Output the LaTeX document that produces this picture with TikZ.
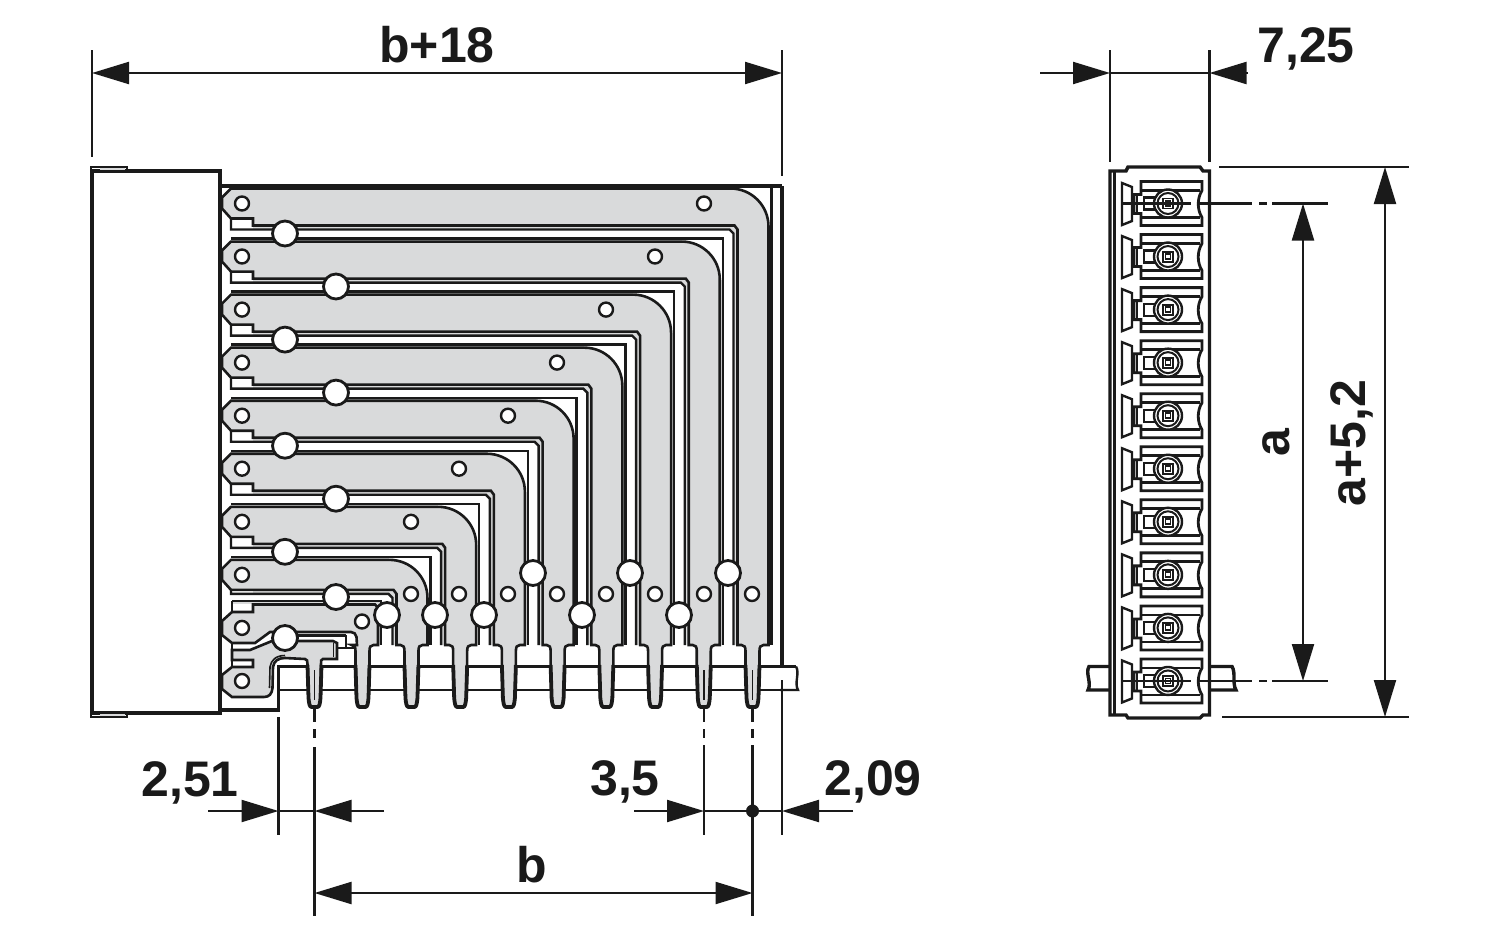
\documentclass[tikz,border=0pt]{standalone}
\usepackage{fontspec}
\setmainfont{Liberation Sans}
\usetikzlibrary{arrows.meta}
\definecolor{ink}{HTML}{1A1A1A}
\definecolor{metal}{HTML}{D9DADB}
\tikzset{
  trace/.style={fill=metal,draw=ink,line width=2.6pt,line join=miter},
  wire/.style={draw=ink,line width=2.4pt,line join=miter},
  heavy/.style={draw=ink,line width=3.4pt,line join=miter},
  dim/.style={draw=ink,line width=2.2pt},
  tipR/.style={-{Triangle[length=37pt,width=22pt,color=ink]}},
  tipB/.style={{Triangle[length=37pt,width=22pt,color=ink]}-{Triangle[length=37pt,width=22pt,color=ink]}},
  label/.style={font=\fontsize{50}{52}\selectfont\bfseries,text=ink,inner sep=0pt,anchor=base},
  bighole/.style={fill=white,draw=ink,line width=2.8pt},
  smallhole/.style={fill=white,draw=ink,line width=2.4pt},
}
\newcommand{\pinshape}[1]{%
  (#1+11,645) .. controls (#1+8,645) and (#1+7,647) .. (#1+7,651) -- (#1+7,665) -- (#1+6,698)
  .. controls (#1+5.5,703) and (#1+5,707) .. (#1+3,707) -- (#1-3,707)
  .. controls (#1-5,707) and (#1-5.5,703) .. (#1-6,698) -- (#1-7,665) -- (#1-7,651)
  .. controls (#1-7,647) and (#1-8,645) .. (#1-11,645)}
\newcommand{\pinthick}[1]{%
  \draw[ink,line width=3.8pt,line join=round] (#1+7,665) -- (#1+6,698)
  .. controls (#1+5.5,703) and (#1+5,707) .. (#1+3,707) -- (#1-3,707)
  .. controls (#1-5,707) and (#1-5.5,703) .. (#1-6,698) -- (#1-7,665);}
\newcommand{\cellview}[1]{%
  \pgfmathsetmacro{\ra}{#1-22}\pgfmathsetmacro{\rb}{#1+22}
  \draw[wire] (1122,#1-20.5) -- (1132,#1-16.5) -- (1132,#1+17.5) -- (1122,#1+21.5) -- cycle;
  \draw[wire,line width=2.8pt] (1141,\ra) -- (1202,\ra) -- (1202,#1-13) .. controls (1197,#1-5) and (1197,#1+6) .. (1202,#1+14)
    -- (1202,\rb) -- (1141,\rb) -- (1141,#1+10) -- (1134,#1+10) -- (1134,#1-9) -- (1141,#1-9) -- cycle;
  \draw[wire,line width=2.8pt] (1141,#1-13) -- (1200,#1-13) (1141,#1+14) -- (1200,#1+14);
  \draw[wire,line width=2pt] (1137,#1-9) -- (1137,#1+10);
  \draw[wire,line width=2.2pt] (1144,#1-6) rectangle (1156,#1+6);
  \draw[fill=white,draw=ink,line width=2.4pt] (1168,#1) circle (14pt);
  \draw[ink,line width=2pt] (1168,#1) circle (10.5pt);
  \draw[ink,line width=1.9pt] (1163,#1-5) rectangle (1173,#1+5);
  \draw[ink,line width=1.9pt] (1165.5,#1-2.5) rectangle (1170.5,#1+2.5);
}
\begin{document}
\begin{tikzpicture}[x=1pt,y=-1pt]
\useasboundingbox (0,0) rectangle (1500,937);
% housing strip
\draw[heavy] (220,710) -- (278.5,710) -- (278.5,666.5) -- (782,666.5) -- (796,666.5);
\draw[wire] (278.5,690) -- (796,690);
\draw[wire] (796,666.5) .. controls (800,673) and (794,683) .. (798,690) -- (780,690);
\draw[heavy] (782,186) -- (782,667);
% rows 0..7
\foreach \i in {0,...,7}{
  \pgfmathsetmacro{\r}{203.5+53.05*\i}
  \pgfmathsetmacro{\p}{752.5-48.72*\i}
  \pgfmathsetmacro{\T}{\r-15}
  \pgfmathsetmacro{\To}{\T-3}
  \pgfmathsetmacro{\Tm}{\T-1.5}
  \pgfmathsetmacro{\R}{\p+16}
  \pgfmathsetmacro{\Ro}{\R+3}
  \pgfmathsetmacro{\Rm}{\R+1.5}
  \pgfmathsetmacro{\L}{\p-15}
  \pgfmathsetmacro{\Li}{\L-4}
  \pgfmathsetmacro{\Lc}{\L-8}
  \pgfmathsetmacro{\Lk}{\L-3}
  \pgfmathsetmacro{\B}{\i==7 ? \r+15 : \r+22}
  \pgfmathsetmacro{\Bi}{\B+4}
  \pgfmathsetmacro{\Bk}{\B+8}
  \pgfmathsetmacro{\Bu}{\B-7}
  \pgfmathsetmacro{\Ta}{\R-38}
  \pgfmathsetmacro{\Tb}{\R-17}
  \pgfmathsetmacro{\Tc}{\T+17}
  \pgfmathsetmacro{\Td}{\T+38}
  \pgfmathsetmacro{\Ru}{\r-6}
  \pgfmathsetmacro{\Rd}{\r+5}
  % outer line of the channel above this trace
  \draw[metal,line width=1.6pt] (231,\Tm) -- (\Ta,\Tm) (\Rm,\Td) -- (\Rm,645);
  \draw[wire] (231,\To) -- (\Ro,\To) -- (\Ro,645);
  % thin strip beside the inner edge
  \fill[metal] (253,\B) -- (\Lk,\B) -- (\L,\Bi) -- (\L,645) -- (\Li,645) -- (\Li,\Bk) -- (\Lc,\Bi) -- (253,\Bi) -- cycle;
  % trace
  \ifnum\i=7
    \draw[trace] (222,\Ru) -- (231,\T) -- (\Ta,\T) .. controls (\Tb,\T) and (\R,\Tc) .. (\R,\Td) -- (\R,645)
      -- \pinshape{\p} -- (\L,645) -- (\L,\Bi) -- (\Lk,\B) -- (231,\B) -- (222,\Rd) -- cycle;
    \draw[wire] (231,\B) -- (231,\Bi) -- (\Lc,\Bi) -- (\Li,\Bk) -- (\Li,645);
  \else
    \draw[trace] (222,\Ru) -- (231,\T) -- (\Ta,\T) .. controls (\Tb,\T) and (\R,\Tc) .. (\R,\Td) -- (\R,645)
      -- \pinshape{\p} -- (\L,645) -- (\L,\Bi) -- (\Lk,\B) -- (253,\B) -- (253,\Bu) -- (231,\Bu) -- (222,\Rd) -- cycle;
    \draw[wire] (231,\Bu) -- (231,\Bi) -- (\Lc,\Bi) -- (\Li,\Bk) -- (\Li,645);
  \fi
  \pinthick{\p}
}
% row 8
\draw[metal,line width=1.6pt] (232,603) -- (379,603) -- (379,645);
\draw[wire] (232,601) -- (381,601) -- (381,645);
\draw[wire] (337,648) -- (357,648) (346,635) -- (346,648);
\draw[wire] (297,635.5) -- (346,635.5);
\draw[trace] (222,621) -- (232,612) -- (253,612) -- (253,604.5) -- (375,604.5) -- (378,607.5) -- (378,645)
  -- \pinshape{362.5} -- (357,645) -- (356.5,637) .. controls (356,634) and (354,632) .. (351,632) -- (270,632) -- (255,643) -- (232,643) -- (222,635) -- cycle;
\draw[wire] (232,601) -- (232,612);
\pinthick{362.5}
% row 9
\draw[trace] (222,675) -- (232,667) -- (253,667) -- (253,660) -- (232,660) -- (232,650) -- (250,650) -- (272,641)
  -- (333,641) -- (337,643) -- (337,659) -- (323,659) .. controls (321,659) and (321,661) .. (321,664) -- (320.5,698)
  .. controls (320,703) and (319.5,707) .. (317.5,707) -- (311.5,707)
  .. controls (309.5,707) and (309,703) .. (308.5,698) -- (307.5,664)
  .. controls (307.5,661) and (307,659) .. (305,659) -- (285,658) .. controls (278,658) and (274,661) .. (273,667) -- (272.5,688)
  .. controls (272,694) and (269,697) .. (264,697) -- (232,697) -- (222,689) -- cycle;
\draw[wire] (232,650) -- (232,643) (232,660) -- (232,667);
\draw[wire,line width=1.6pt] (285,655.5) .. controls (276,655.5) and (271,660) .. (270,667) -- (269.5,688);
\draw[wire,line width=1.6pt] (333.5,643) -- (333.5,657);
\pinthick{314.5}
% plug housing
\draw[heavy] (92,171) -- (220,171) -- (220,713) -- (92,713) -- cycle;
\draw[wire] (91,171) -- (91,167) -- (127,167) -- (127,171);
\draw[wire] (91,713) -- (91,717) -- (127,717) -- (127,713);
\draw[metal,line width=1.6pt] (100,169) -- (125,169) (100,715) -- (125,715);
\draw[draw=ink,line width=4.4pt] (220,186) -- (782,186);
% holes
\foreach \a/\b in {285/233.5,336/286.5,285/339.6,336/392.6,285/445.7,336/498.7,285/551.8,336/597,285/638,
  728/573,679/615,630/573,582/615,533/573,484/615,435/615,387/615}
  {\draw[bighole] (\a,\b) circle (12.5pt);}
\foreach \a/\b in {704/203.5,655/256.5,606/309.6,557/362.6,508/415.7,459/468.7,411/521.8,362/621.5,
  752/594,704/594,655/594,606/594,557/594,508/594,459/594,411/594,
  242/203.5,242/256.5,242/309.6,242/362.6,242/415.7,242/468.7,242/521.8,242/574.8,242/627.9,242/681}
  {\draw[smallhole] (\a,\b) circle (7pt);}
% centre lines of pins
\foreach \x in {314.5,704,752.5}{
  \draw[dim,line width=1.8pt] (\x,670) -- (\x,700);
  \draw[dim] (\x,708) -- (\x,722) (\x,729) -- (\x,738);
}
\draw[dim] (314.5,747) -- (314.5,916);
\draw[dim] (752.5,745) -- (752.5,916);
\draw[dim] (704,745) -- (704,835);
\draw[dim] (278.5,717) -- (278.5,835);
\draw[dim] (782,680) -- (782,835);
% upper dimension
\draw[dim] (92,50) -- (92,157) (782,50) -- (782,176);
\draw[dim,tipB] (92,73) -- (782,73);
\node[label] (bplus) at (437,62) {b+18};
% lower dimensions
\draw[dim,tipR] (208,811) -- (278.5,811);
\draw[dim,tipR] (384,811) -- (314.5,811);
\draw[dim] (278.5,811) -- (314.5,811);
\node[label] (d251) at (190,796) {2,51};
\draw[dim,tipR] (634,811) -- (704,811);
\draw[dim,tipR] (853,811) -- (782,811);
\draw[dim] (704,811) -- (782,811);
\fill[ink] (752.5,811) circle (6.5pt);
\node[label] (d35) at (625,795) {3,5};
\node[label] (d209) at (873,795) {2,09};
\draw[dim,tipB] (314.5,893) -- (752.5,893);
\node[label] (db) at (532,882) {b};
% side view
\draw[heavy] (1110,666.5) -- (1089,666.5) .. controls (1085,673) and (1092,683) .. (1088,690) -- (1110,690);
\draw[heavy] (1209,666.5) -- (1232,666.5) .. controls (1236,673) and (1232,683) .. (1236,690) -- (1209,690);
\draw[draw=ink,line width=3.4pt,fill=white,line join=miter] (1110,171) -- (1126,171) -- (1128,167) -- (1200,167) -- (1203,171) -- (1209.5,171)
  -- (1209.5,715) -- (1203,715) -- (1200,718) -- (1128,718) -- (1126,715) -- (1110,715) -- cycle;
\draw[draw=ink,line width=2.4pt] (1114.5,171) -- (1114.5,715);
\foreach \i in {0,...,9}{
  \pgfmathsetmacro{\r}{203.5+53.05*\i}
  \cellview{\r}
}
\foreach \y in {203.5,681}{
  \draw[dim] (1123,\y) -- (1191,\y) (1199,\y) -- (1252,\y) (1259,\y) -- (1267,\y) (1272,\y) -- (1328,\y);
}
\draw[dim] (1110,50) -- (1110,162) (1209.5,50) -- (1209.5,162);
\draw[dim,tipR] (1040,73) -- (1110,73);
\draw[dim,tipR] (1248,73) -- (1209.5,73);
\draw[dim] (1110,73) -- (1209.5,73);
\node[label] (d725) at (1306,62) {7,25};
\draw[dim] (1219,167) -- (1409,167) (1222,717) -- (1409,717);
\draw[dim,tipB] (1385,167) -- (1385,717);
\draw[dim,tipB] (1303,203.5) -- (1303,681);
\node[label,rotate=90] (da) at (1289,443) {a};
\node[label,rotate=90] (da52) at (1365,443) {a+5,2};
\end{tikzpicture}
\end{document}
